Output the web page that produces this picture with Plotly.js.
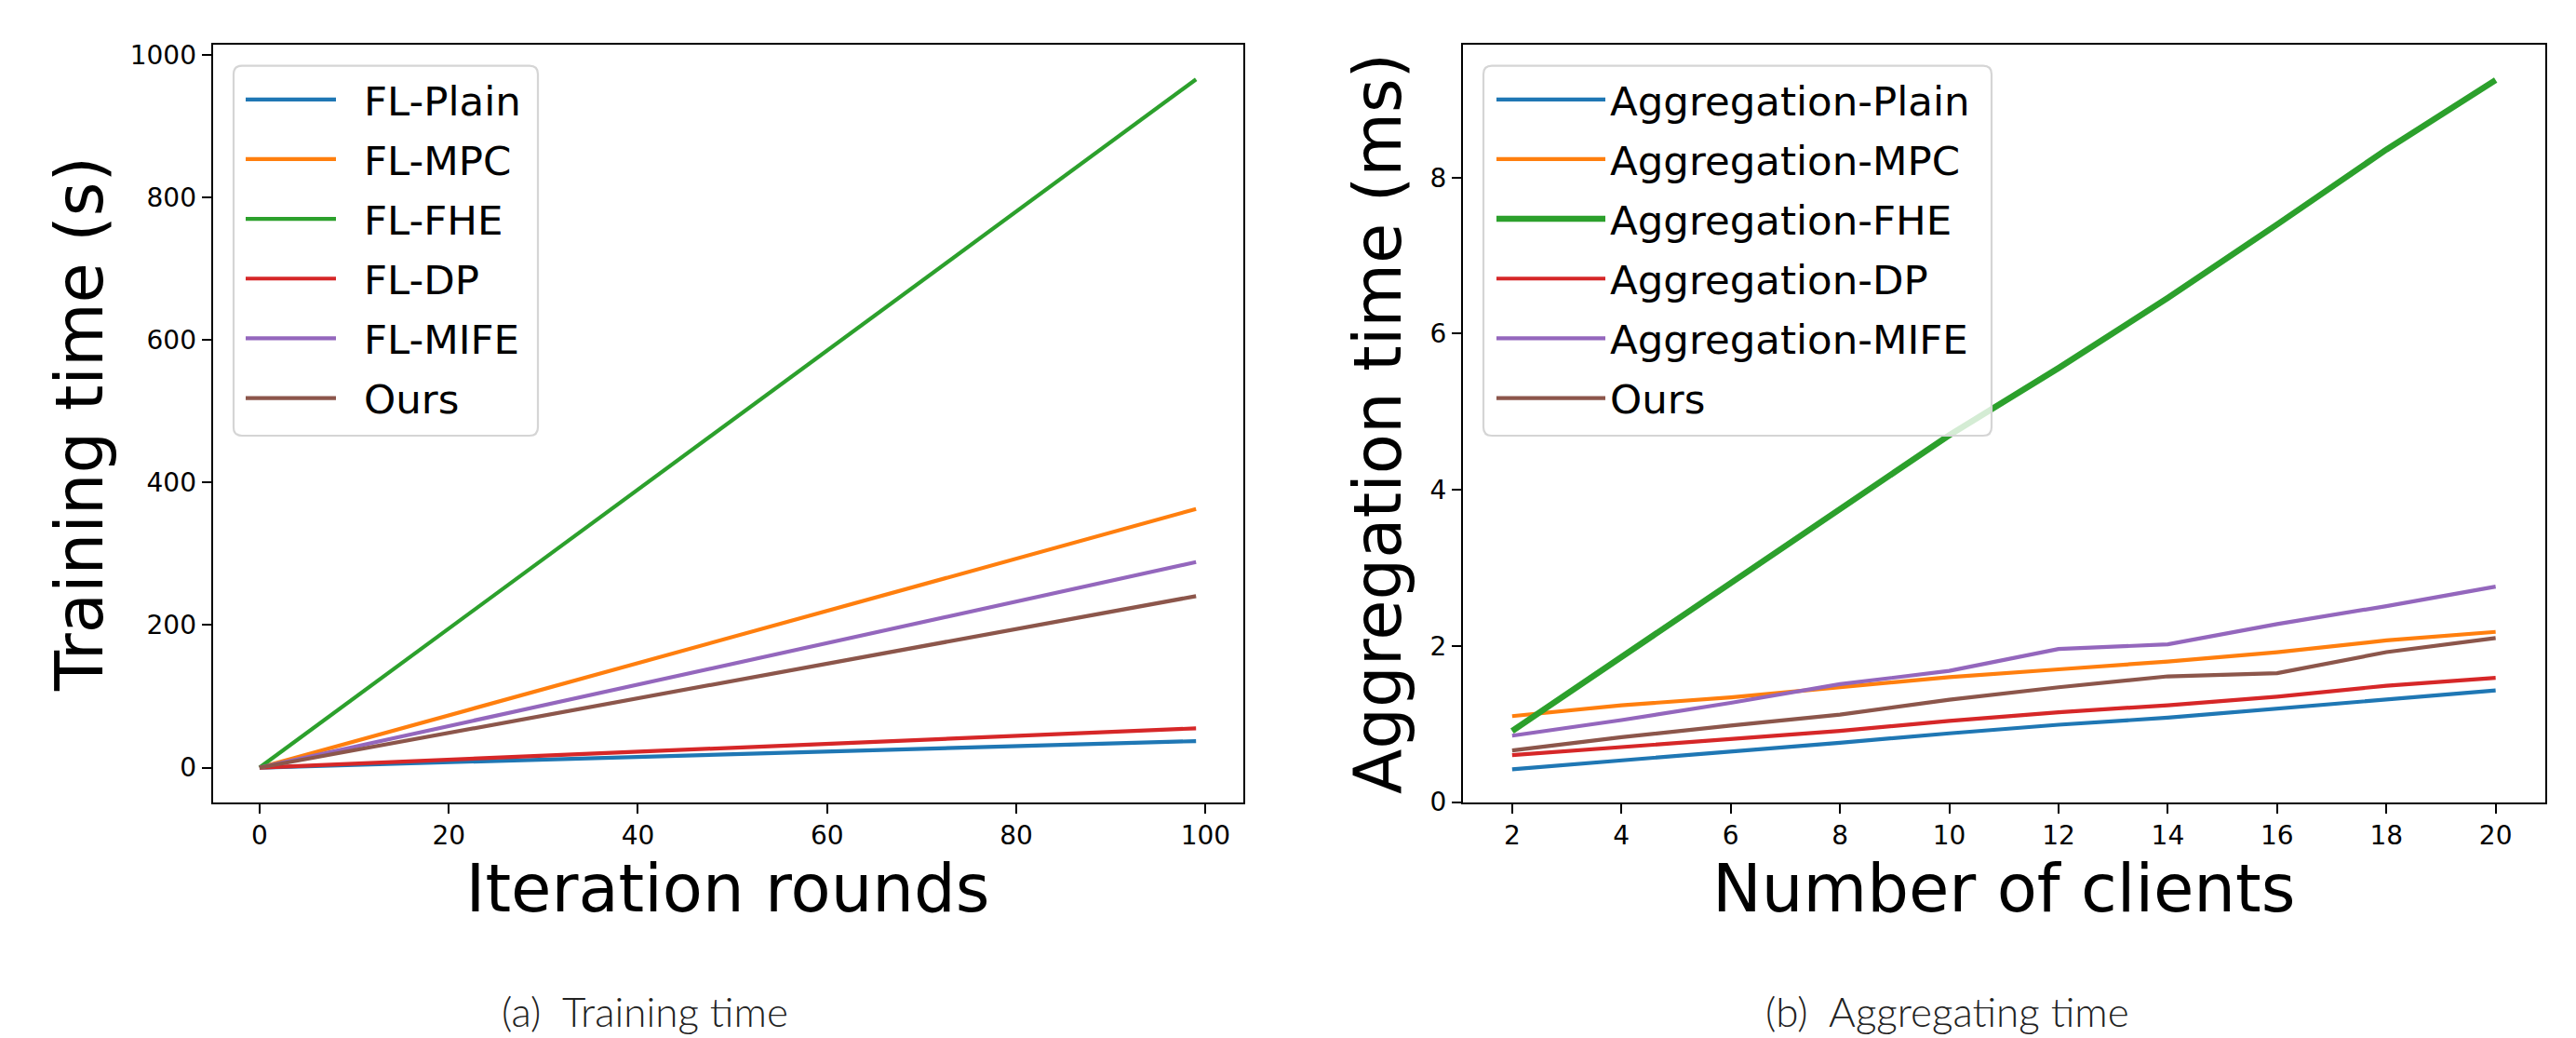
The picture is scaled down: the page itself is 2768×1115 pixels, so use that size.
<!DOCTYPE html>
<html><head><meta charset="utf-8">
<script src="https://cdn.plot.ly/plotly-3.0.1.min.js"></script>
<style>html,body{margin:0;padding:0;background:#fff;}#chart{width:2768px;height:1115px;}</style>
</head><body><div id="chart"></div>
<script>
// ---- data: (a) training time vs iteration rounds ----
const rounds   = [0, 99];
const flPlain  = [0, 37.2];
const flMPC    = [0, 363];
const flFHE    = [0, 966];
const flDP     = [0, 55.1];
const flMIFE   = [0, 288.5];
const flOurs   = [0, 240.7];
const trainNames = ['FL-Plain', 'FL-MPC', 'FL-FHE', 'FL-DP', 'FL-MIFE', 'Ours'];

// ---- data: (b) aggregation time vs number of clients ----
const clients  = [2, 4, 6, 8, 10, 12, 14, 16, 18, 20];
const aggPlain = [0.42, 0.53, 0.65, 0.76, 0.88, 0.99, 1.08, 1.20, 1.32, 1.43];
const aggMPC   = [1.10, 1.24, 1.34, 1.47, 1.60, 1.70, 1.80, 1.92, 2.07, 2.18];
const aggFHE   = [0.91, 1.86, 2.81, 3.75, 4.70, 5.56, 6.46, 7.40, 8.36, 9.25];
const aggDP    = [0.60, 0.70, 0.80, 0.91, 1.04, 1.15, 1.24, 1.35, 1.49, 1.59];
const aggMIFE  = [0.85, 1.05, 1.27, 1.51, 1.68, 1.96, 2.02, 2.28, 2.51, 2.76];
const aggOurs  = [0.66, 0.83, 0.98, 1.12, 1.31, 1.47, 1.61, 1.65, 1.92, 2.10];
const aggNames = ['Aggregation-Plain', 'Aggregation-MPC', 'Aggregation-FHE', 'Aggregation-DP', 'Aggregation-MIFE', 'Ours'];

const xTicksA = [0, 20, 40, 60, 80, 100];
const yTicksA = [0, 200, 400, 600, 800, 1000];
const xTicksB = [2, 4, 6, 8, 10, 12, 14, 16, 18, 20];
const yTicksB = [0, 2, 4, 6, 8];

const colors = ['#1f77b4', '#ff7f0e', '#2ca02c', '#d62728', '#9467bd', '#8c564b'];

const W = 2768, H = 1115;
const px = v => v / W;
const py = v => 1 - v / H;
const FONT = 'DejaVu Sans, sans-serif';

const trainSeries = [flPlain, flMPC, flFHE, flDP, flMIFE, flOurs];
const aggSeries = [aggPlain, aggMPC, aggFHE, aggDP, aggMIFE, aggOurs];

const traces = [];
trainSeries.forEach((ys, i) => traces.push({
  x: rounds, y: ys, name: trainNames[i], type: 'scatter', mode: 'lines',
  line: {color: colors[i], width: 4.2}, xaxis: 'x', yaxis: 'y',
  legend: 'legend', legendgroup: 'a' + i
}));
aggSeries.forEach((ys, i) => traces.push({
  x: clients, y: ys, name: aggNames[i], type: 'scatter', mode: 'lines',
  line: {color: colors[i], width: i === 2 ? 6.5 : 4.2}, xaxis: 'x2', yaxis: 'y2',
  legend: 'legend2', legendgroup: 'b' + i
}));

function axisCommon() {
  return {
    showline: true, mirror: true, linecolor: '#000', linewidth: 2,
    ticks: 'outside', ticklen: 10, tickwidth: 2, tickcolor: '#000',
    showgrid: false, zeroline: false,
    tickfont: {family: FONT, size: 28, color: '#000'}
  };
}

function roundRect(x0, y0, x1, y1, r) {
  const rx = r / W, ry = r / H;
  const X0 = px(x0), X1 = px(x1), Y0 = py(y0), Y1 = py(y1);
  return `M${X0 + rx},${Y0} L${X1 - rx},${Y0} Q${X1},${Y0} ${X1},${Y0 - ry} ` +
         `L${X1},${Y1 + ry} Q${X1},${Y1} ${X1 - rx},${Y1} L${X0 + rx},${Y1} ` +
         `Q${X0},${Y1} ${X0},${Y1 + ry} L${X0},${Y0 - ry} Q${X0},${Y0} ${X0 + rx},${Y0} Z`;
}

const legendBox = {
  type: 'path', xref: 'paper', yref: 'paper', layer: 'above',
  fillcolor: 'rgba(255,255,255,0.8)', line: {color: '#d5d5d5', width: 2.2}
};

const legendCommon = {
  xanchor: 'left', yanchor: 'top',
  bgcolor: 'rgba(0,0,0,0)', borderwidth: 0,
  font: {family: FONT, size: 43.5, color: '#000'},
  traceorder: 'grouped', tracegroupgap: 4.6
};

const layout = {
  width: W, height: H,
  margin: {l: 0, r: 0, t: 0, b: 0},
  paper_bgcolor: '#fff', plot_bgcolor: '#fff',
  showlegend: true,
  xaxis: Object.assign(axisCommon(), {
    domain: [px(228.6), px(1335.5)], range: [-4.95, 103.95],
    tickvals: xTicksA, anchor: 'y',
    title: {text: 'Iteration rounds', font: {family: FONT, size: 70.5, color: '#000'}, standoff: 8}
  }),
  yaxis: Object.assign(axisCommon(), {
    domain: [py(861.5), py(48.3)], range: [-48.3, 1014.3],
    tickvals: yTicksA, anchor: 'x',
    title: {text: 'Training time (s)', font: {family: FONT, size: 70.5, color: '#000'}, standoff: 6}
  }),
  xaxis2: Object.assign(axisCommon(), {
    domain: [px(1572), px(2734.5)], range: [1.1, 20.9],
    tickvals: xTicksB, anchor: 'y2',
    title: {text: 'Number of clients', font: {family: FONT, size: 70.5, color: '#000'}, standoff: 8}
  }),
  yaxis2: Object.assign(axisCommon(), {
    domain: [py(861.5), py(48.3)], range: [0, 9.70],
    tickvals: yTicksB, anchor: 'x2',
    title: {text: 'Aggregation time (ms)', font: {family: FONT, size: 70.5, color: '#000'}, standoff: 8}
  }),
  legend: Object.assign({}, legendCommon, {x: px(259), y: py(72), itemwidth: 97}),
  legend2: Object.assign({}, legendCommon, {x: px(1603), y: py(72), itemwidth: 117}),
  shapes: [
    Object.assign({}, legendBox, {path: roundRect(251, 70.7, 578, 468, 9)}),
    Object.assign({}, legendBox, {path: roundRect(1594, 70.7, 2140, 468, 9)})
  ],
  annotations: [
    {text: '(a)\u00a0\u00a0Training time', xref: 'paper', yref: 'paper', x: px(693), y: py(1086),
     xanchor: 'center', yanchor: 'middle', showarrow: false, borderpad: 0,
     font: {family: 'Lato, sans-serif', size: 44, color: '#222', weight: 300}},
    {text: '(b)\u00a0\u00a0Aggregating time', xref: 'paper', yref: 'paper', x: px(2092), y: py(1086),
     xanchor: 'center', yanchor: 'middle', showarrow: false, borderpad: 0,
     font: {family: 'Lato, sans-serif', size: 44, color: '#222', weight: 300}}
  ]
};

// matplotlib-style spacing between legend handle and label (left legend)
const GAP = 25;
function widenLegendGap() {
  document.querySelectorAll('g.legend .scrollbox').forEach(s => {
    if (s.hasAttribute('clip-path')) s.removeAttribute('clip-path');
  });
  document.querySelectorAll('g.legend text.legendtext').forEach(t => {
    if (!t.dataset.base) t.dataset.base = t.getAttribute('x') || '0';
    const base = parseFloat(t.dataset.base);
    if (base > 112) return;
    const target = String(base + GAP);
    if (t.getAttribute('x') !== target) t.setAttribute('x', target);
  });
}

const gd = document.getElementById('chart');
Plotly.newPlot(gd, traces, layout, {staticPlot: true, displayModeBar: false}).then(() => {
  widenLegendGap();
});
</script>
</body></html>
